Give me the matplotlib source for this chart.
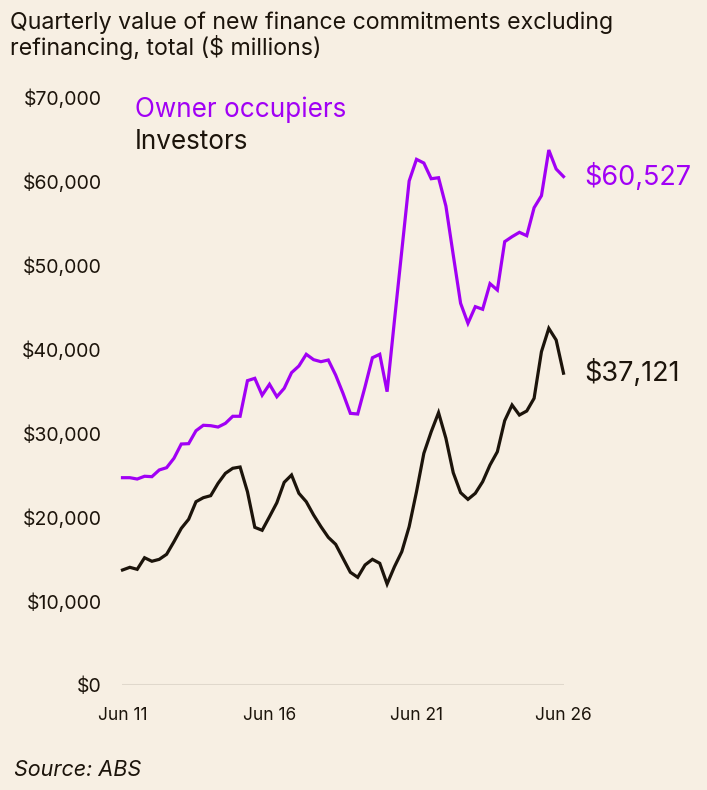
import numpy as np
import matplotlib
matplotlib.use("Agg")
import matplotlib.pyplot as plt

# quarterly values, $ millions, Jun 11 onwards
owner_occupiers = [
    24680, 24680, 24520, 24850, 24800, 25600, 25870, 26990, 28690, 28730,
    30270, 30920, 30870, 30710, 31150, 31990, 31990, 36230, 36510, 34500,
    35800, 34320, 35320, 37180, 37980, 39370, 38730, 38490, 38690, 36900,
    34720, 32340, 32260, 35510, 38960, 39370, 34920, 43400, 51700, 60000,
    62580, 62140, 60270, 60390, 57020, 51190, 45440, 43060, 45040, 44730,
    47780, 47020, 52780, 53370, 53890, 53490, 56820, 58250, 63690, 61430,
    60527,
]
investors = [
    13690, 14010, 13770, 15150, 14730, 14960, 15560, 17060, 18650, 19730,
    21820, 22300, 22540, 24010, 25200, 25800, 25950, 23010, 18770, 18420,
    20040, 21700, 24130, 25000, 22820, 21820, 20240, 18850, 17580, 16750,
    15080, 13420, 12820, 14290, 14960, 14490, 12020, 14080, 15870, 18850,
    23010, 27580, 30150, 32420, 29370, 25270, 22900, 22100, 22820, 24200,
    26190, 27770, 31470, 33330, 32140, 32620, 34130, 39680, 42460, 41070,
    37121,
]
tick_pos = [0, 20, 40, 60]
tick_labels = ["Jun 11", "Jun 16", "Jun 21", "Jun 26"]
y_ticks = [0, 10000, 20000, 30000, 40000, 50000, 60000, 70000]

bg = "#f7efe3"
purple = "#a100f5"
dark = "#1c140b"

plt.rcParams['font.family'] = ['Inter', 'DejaVu Sans']

fig = plt.figure(figsize=(7.07, 7.90), dpi=100, facecolor=bg)
ax = fig.add_axes([122.5 / 707, 105 / 790, 441 / 707, 588 / 790])
ax.set_facecolor(bg)

x = np.arange(len(owner_occupiers))
ax.plot(x, owner_occupiers, color=purple, lw=2.3, solid_joinstyle='miter', clip_on=False)
ax.plot(x, investors, color=dark, lw=2.3, solid_joinstyle='miter', clip_on=False)

ax.set_xlim(0, 60)
ax.set_ylim(0, 70000)
ax.axhline(0, color="#e0d8cc", lw=1.5, zorder=0)

for s in ax.spines.values():
    s.set_visible(False)
ax.set_xticks(tick_pos, tick_labels)
ax.set_yticks(y_ticks, ["${:,.0f}".format(v) for v in y_ticks])
ax.tick_params(length=0, colors=dark)
ax.tick_params(axis='y', pad=15, labelsize=14)
ax.tick_params(axis='x', pad=16, labelsize=12.5)

# end labels
ax.annotate("${:,}".format(owner_occupiers[-1]), (60, owner_occupiers[-1]),
            xytext=(15, 0), textcoords='offset points', va='center',
            color=purple, fontsize=19.5, annotation_clip=False)
ax.annotate("${:,}".format(investors[-1]), (60, investors[-1]),
            xytext=(15, 0), textcoords='offset points', va='center',
            color=dark, fontsize=19.5, annotation_clip=False)

# legend as text
fig.text(135 / 707, 1 - 110 / 790, "Owner occupiers", color=purple, fontsize=18.8, va='center')
fig.text(135 / 707, 1 - 142 / 790, "Investors", color=dark, fontsize=18.8, va='center')

fig.text(10 / 707, 1 - 11 / 790,
         "Quarterly value of new finance commitments excluding\nrefinancing, total ($ millions)",
         color=dark, fontsize=16.7, va='top', linespacing=1.1)
fig.text(14 / 707, 1 - 770 / 790, "Source: ABS", color=dark, fontsize=15.5,
         style='italic', va='center')

fig.savefig("out.png", dpi=100, facecolor=bg)
